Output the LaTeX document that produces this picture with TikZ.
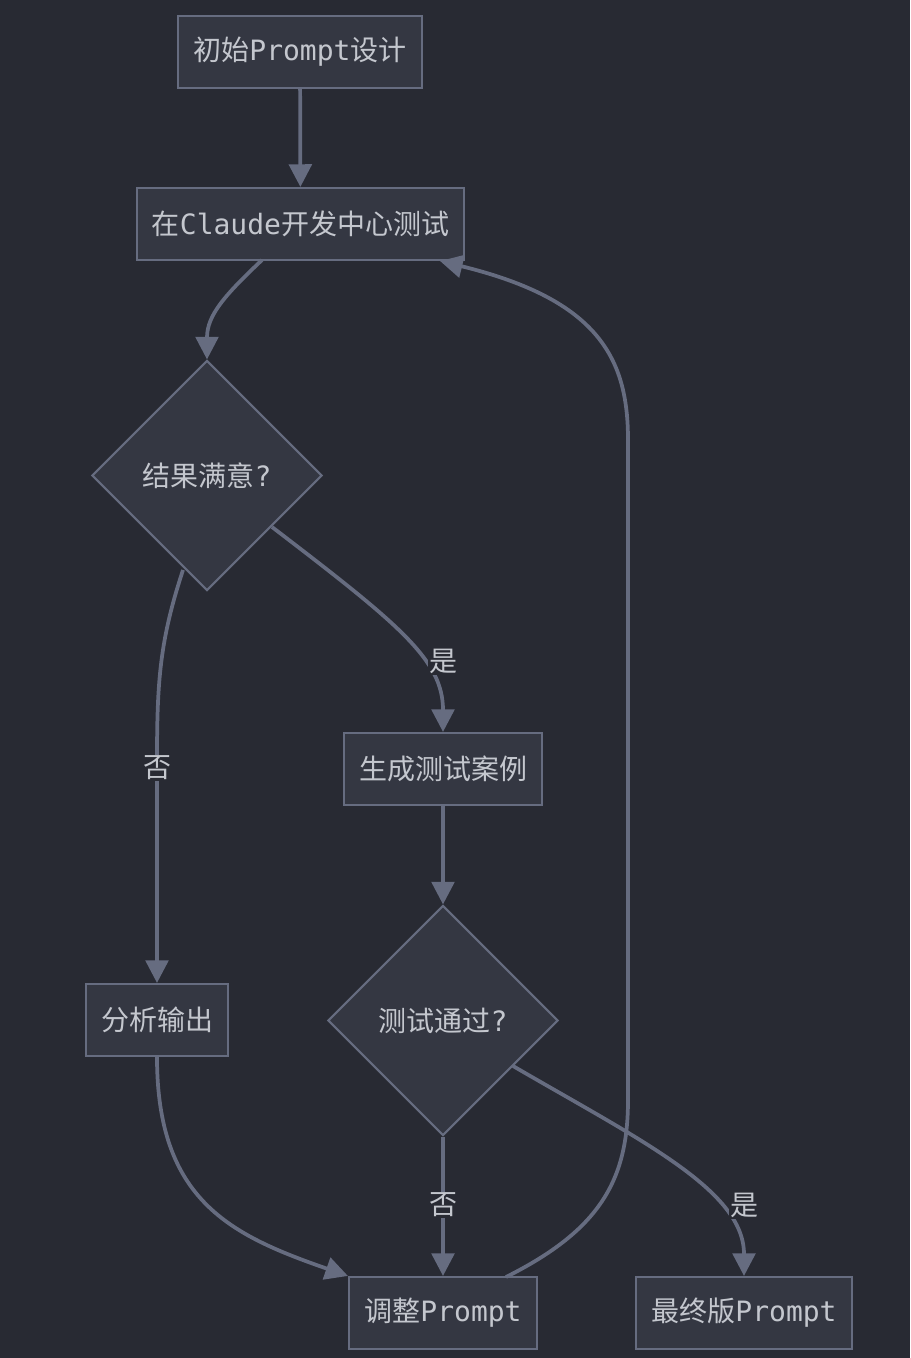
\documentclass[tikz,border=0pt]{standalone}
\usepackage{fontspec}
\setmainfont{DejaVu Sans Mono}
\newfontfamily\cjk{Noto Sans CJK SC}
\usetikzlibrary{shapes.geometric,arrows.meta}
\definecolor{bgc}{RGB}{40,42,51}
\definecolor{nodefill}{RGB}{52,55,66}
\definecolor{linec}{RGB}{102,108,128}
\definecolor{txtc}{RGB}{196,199,206}
\tikzset{
  base/.style={draw=linec, fill=nodefill, line width=1.6pt, text=txtc, inner sep=0pt,
    font=\fontsize{21pt}{25pt}\selectfont},
  box/.style={base, rectangle},
  dia/.style={base, diamond, aspect=1, minimum width=230*0.75pt, minimum height=230*0.75pt},
  edge/.style={draw=linec, line width=2.8pt, -{Triangle[length=17pt,width=17pt]}},
  lbl/.style={fill=bgc, text=txtc, inner sep=1pt, font=\fontsize{21pt}{25pt}\selectfont}
}
\begin{document}
\begin{tikzpicture}[x=0.75pt,y=-0.75pt]
\fill[bgc] (0,0) rectangle (910,1358);
\useasboundingbox (0,0) rectangle (910,1358);

\node[box, minimum width=244*0.75pt, minimum height=72*0.75pt] (A) at (300,52) {{\cjk 初始}Prompt{\cjk 设计}};
\node[box, minimum width=327*0.75pt, minimum height=72*0.75pt] (B) at (300.5,224) {{\cjk 在}Claude{\cjk 开发中心测试}};
\node[dia] (C) at (207,475.5) {{\cjk 结果满意}?};
\node[box, minimum width=198*0.75pt, minimum height=72*0.75pt] (D) at (443,769) {\cjk 生成测试案例};
\node[box, minimum width=142*0.75pt, minimum height=72*0.75pt] (E) at (157,1020) {\cjk 分析输出};
\node[dia] (F) at (443,1020.5) {{\cjk 测试通过}?};
\node[box, minimum width=188*0.75pt, minimum height=72*0.75pt] (G) at (443,1313) {{\cjk 调整}Prompt};
\node[box, minimum width=216*0.75pt, minimum height=72*0.75pt] (H) at (744,1313) {{\cjk 最终版}Prompt};

\coordinate (bcS) at (262,260);
\coordinate (cdS) at (272,527);
\coordinate (ceS) at (183,570);
\coordinate (fhS) at (513,1066);
\coordinate (gbS) at (506,1277);
\coordinate (gbE) at (440,261);

\draw[edge] (A) -- (B);
\draw[edge] (bcS) .. controls (225,295) and (207,315) .. (C.north);
\draw[edge] (cdS) .. controls (400,625) and (443,660) .. (D.north);
\draw[edge] (ceS) .. controls (160,640) and (157,680) .. (157,760) -- (E.north);
\draw[edge] (D) -- (F);
\draw[edge] (F.south) -- (G.north);
\draw[edge] (fhS) .. controls (640,1140) and (744,1190) .. (H.north);
\draw[edge] (E.south) .. controls (157,1200) and (230,1235) .. (G.north west);
\draw[edge] (gbS) .. controls (600,1230) and (628,1180) .. (628,1100) -- (628,440) .. controls (628,360) and (600,300) .. (gbE);

\node[lbl] (l1) at (443,661) {\cjk 是};
\node[lbl] (l2) at (157,768) {\cjk 否};
\node[lbl] (l3) at (443,1205) {\cjk 否};
\node[lbl] (l4) at (744,1205) {\cjk 是};
\end{tikzpicture}
\end{document}
